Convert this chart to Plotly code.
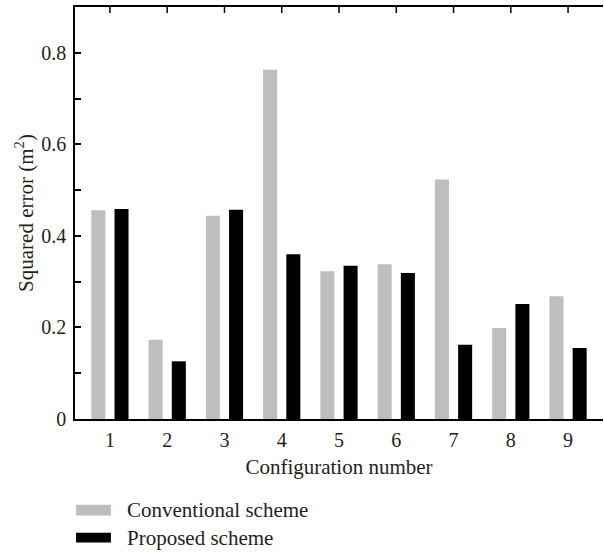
import plotly.graph_objects as go

categories = [1, 2, 3, 4, 5, 6, 7, 8, 9]
conventional = [0.456, 0.173, 0.444, 0.763, 0.323, 0.338, 0.523, 0.199, 0.268]
proposed = [0.459, 0.126, 0.457, 0.360, 0.335, 0.319, 0.162, 0.251, 0.155]
series_names = ["Conventional scheme", "Proposed scheme"]
colors = ["#bebebe", "#000000"]

FONT = "Liberation Serif"
FS = 21
TFS = 20
TXT = "#231f20"
Y_MAX = 0.9
PLOT_H = 552 - 7 - 133

fig = go.Figure()
fig.add_trace(go.Bar(x=categories, y=conventional, name=series_names[0],
                     marker=dict(color=colors[0], line=dict(width=0)),
                     width=0.245, offset=-0.325, showlegend=False))
fig.add_trace(go.Bar(x=categories, y=proposed, name=series_names[1],
                     marker=dict(color=colors[1], line=dict(width=0)),
                     width=0.245, offset=0.08, showlegend=False))

# top-edge category ticks
for c in categories:
    fig.add_shape(type="line", xref="x", yref="paper", x0=c, x1=c,
                  y0=1, y1=1 - 6 / PLOT_H, line=dict(color="#000", width=1.5),
                  layer="above")

fig.update_layout(
    width=604, height=552,
    margin=dict(l=75, r=1, t=7, b=133),
    paper_bgcolor="white", plot_bgcolor="white",
    barmode="overlay",
    font=dict(family=FONT, size=FS, color=TXT),
    xaxis=dict(range=[0.39, 9.61], tickvals=categories, ticktext=[str(c) for c in categories],
               ticks="", showline=True, mirror=True, linecolor="#000", linewidth=1.5,
               showgrid=False, zeroline=False, ticklabelstandoff=2,
               tickfont=dict(family=FONT, size=TFS, color=TXT),
               title=dict(text="Configuration number", standoff=10,
                          font=dict(family=FONT, size=FS, color=TXT))),
    yaxis=dict(range=[0, Y_MAX], tickvals=[0, 0.2, 0.4, 0.6, 0.8],
               ticktext=["0", "0.2", "0.4", "0.6", "0.8"],
               ticks="inside", ticklen=6, tickwidth=1.5, tickcolor="#000",
               minor=dict(tickvals=[0.1, 0.3, 0.5, 0.7], ticks="inside", ticklen=6,
                          tickwidth=1.5, tickcolor="#000"),
               showline=True, linecolor="#000", linewidth=1.5,
               showgrid=False, zeroline=False, ticklabelstandoff=3,
               tickfont=dict(family=FONT, size=TFS, color=TXT),
               title=dict(text="Squared error (m<sup>2</sup>)", standoff=2,
                          font=dict(family=FONT, size=FS, color=TXT))),
)

# manual legend
legend_rows = [(-0.208, -0.234, -0.221), (-0.276, -0.300, -0.288)]
for (y0, y1, yt), name, col in zip(legend_rows, series_names, colors):
    fig.add_shape(type="rect", xref="paper", yref="paper",
                  x0=0.002, x1=0.068, y0=y1, y1=y0,
                  fillcolor=col, line=dict(width=0))
    fig.add_annotation(xref="paper", yref="paper", x=0.0947, y=yt,
                       text=name, showarrow=False, xanchor="left", yanchor="middle",
                       font=dict(family=FONT, size=FS, color=TXT))

fig.write_html("out.html", config={"displayModeBar": False},
               post_script="document.body.style.margin='0';document.body.style.padding='0';")
